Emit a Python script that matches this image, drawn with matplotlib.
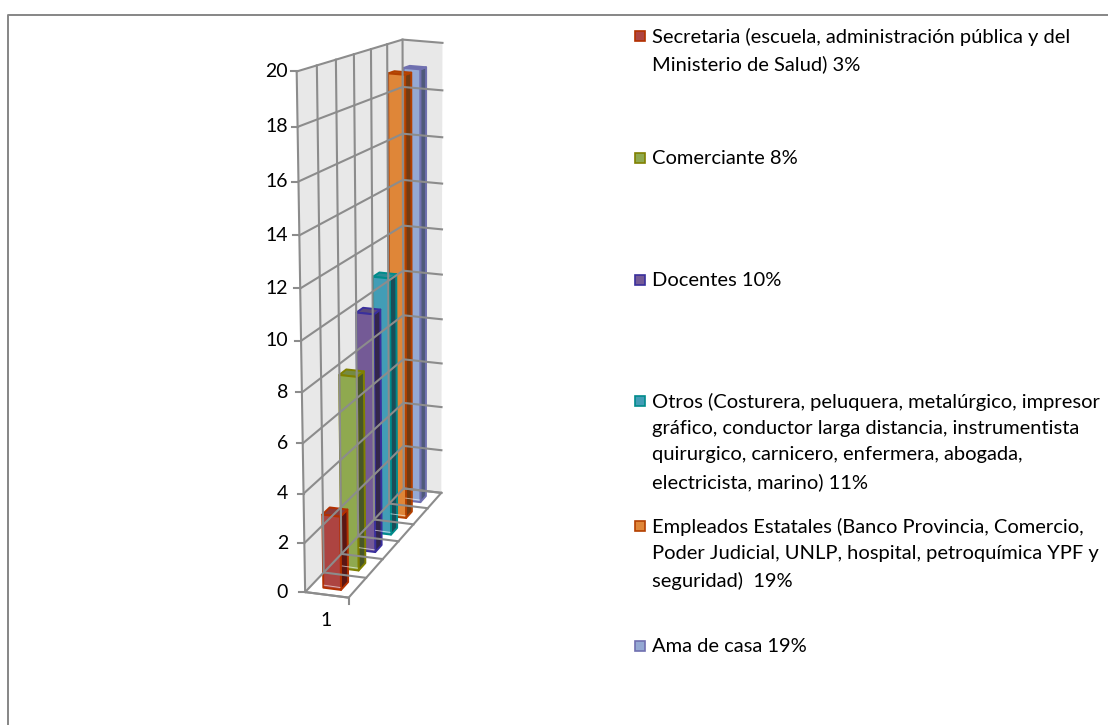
import numpy as np
import matplotlib
matplotlib.use('Agg')
import matplotlib.pyplot as plt
from matplotlib.patches import Polygon, Rectangle

plt.rcParams['font.family'] = ['Lato', 'DejaVu Sans']

# datos
valores = [3, 8, 10, 11, 19, 19]
ticks_y = [0, 2, 4, 6, 8, 10, 12, 14, 16, 18, 20]
categoria = '1'
leyenda = [
    'Secretaria (escuela, administración pública y del\nMinisterio de Salud) 3%',
    'Comerciante 8%',
    'Docentes 10%',
    'Otros (Costurera, peluquera, metalúrgico, impresor\ngráfico, conductor larga distancia, instrumentista\nquirurgico, carnicero, enfermera, abogada,\nelectricista, marino) 11%',
    'Empleados Estatales (Banco Provincia, Comercio,\nPoder Judicial, UNLP, hospital, petroquímica YPF y\nseguridad)  19%',
    'Ama de casa 19%',
]
leyenda_y = [36, 158, 280, 401, 526, 646]

# colores: frente, lado, arriba, borde
colores_frente = ['#AD4441', '#8FA94F', '#745A96', '#429DB6', '#DF8638', '#95A9D3']
colores_lado = ['#5B1613', '#475626', '#33264B', '#1B4C58', '#733B11', '#4F5A7A']
colores_arriba = ['#8B3A38', '#758A44', '#5A4A7A', '#2A8C96', '#B5500A', '#6B73AE']
colores_borde = ['#B33000', '#808000', '#3A2F9C', '#008B8B', '#B34000', '#7070B0']

# camara: esquinas de la caja 3D (x, prof, valor) -> pixel
esquinas_3d = [(0, 0, 0), (1, 0, 0), (1, 1, 0), (0, 1, 0), (0, 0, 20), (0, 1, 20), (1, 1, 20),
               (0, 0, 10), (0, 1, 10), (1, 1, 10)]
esquinas_px = [(304, 591), (350, 598), (440, 493), (405, 489), (297, 71), (402, 40), (443, 43),
               (300.5, 342), (403.5, 270), (441.5, 274)]

A = []
b = []
for (X, Z, V), (u, w) in zip(esquinas_3d, esquinas_px):
    A.append([X, Z, V, 1, 0, 0, 0, 0, -u * X, -u * Z, -u * V])
    b.append(u)
    A.append([0, 0, 0, 0, X, Z, V, 1, -w * X, -w * Z, -w * V])
    b.append(w)
P = np.linalg.lstsq(np.array(A, float), np.array(b, float), rcond=None)[0]
P = np.append(P, 1).reshape(3, 4)


def proy(x, z, v):
    p = P @ np.array([x, z, v, 1.0])
    return p[0] / p[2], p[1] / p[2]


fig = plt.figure(figsize=(11.08, 7.25), dpi=100)
ax = fig.add_axes([0, 0, 1, 1])
ax.set_xlim(0, 1108)
ax.set_ylim(725, 0)
ax.axis('off')

# marco del grafico
ax.plot([8, 8, 1108], [725, 15, 15], color='#868686', lw=1.4)

gris = '#8C8C8C'
pared = '#E8E8E8'

# paredes
ax.add_patch(Polygon([proy(0, 0, 0), proy(0, 1, 0), proy(0, 1, 20), proy(0, 0, 20)], fc=pared, ec='none'))
ax.add_patch(Polygon([proy(0, 1, 0), proy(1, 1, 0), proy(1, 1, 20), proy(0, 1, 20)], fc=pared, ec='none'))

n = len(valores)

# grilla
for v in ticks_y:
    pts = [proy(0, 0, v), proy(0, 1, v), proy(1, 1, v)]
    ax.plot([p[0] for p in pts], [p[1] for p in pts], color=gris, lw=1.5)
    t = proy(0, 0, v)
    ax.plot([t[0] - 6, t[0]], [t[1], t[1]], color=gris, lw=1.5)
    ax.text(288, t[1], str(v), ha='right', va='center', fontsize=14, color='black')

for i in range(n + 1):
    z = i / n
    pts = [proy(1, z, 0), proy(0, z, 0), proy(0, z, 20)]
    ax.plot([p[0] for p in pts], [p[1] for p in pts], color=gris, lw=1.5)

# piso, bordes
pts = [proy(0, 0, 0), proy(1, 0, 0), proy(1, 1, 0)]
ax.plot([p[0] for p in pts], [p[1] for p in pts], color=gris, lw=1.5)
t = proy(1, 0, 0)
ax.plot([t[0], t[0]], [t[1], t[1] + 6], color=gris, lw=1.5)
ax.text(326, 621, categoria, ha='center', va='center', fontsize=14, color='black')

# barras, de atras hacia adelante
x0, x1 = 0.29, 0.7
for i in range(n - 1, -1, -1):
    v = valores[i]
    z0 = (i + 0.3) / n
    z1 = (i + 0.7) / n
    lado = [proy(x1, z0, 0), proy(x1, z1, 0), proy(x1, z1, v), proy(x1, z0, v)]
    arriba = [proy(x0, z0, v), proy(x1, z0, v), proy(x1, z1, v), proy(x0, z1, v)]
    frente = [proy(x0, z0, 0), proy(x1, z0, 0), proy(x1, z0, v), proy(x0, z0, v)]
    ax.add_patch(Polygon(lado, fc=colores_lado[i], ec=colores_borde[i], lw=1.4, joinstyle='round'))
    ax.add_patch(Polygon(arriba, fc=colores_arriba[i], ec=colores_borde[i], lw=1.4, joinstyle='round'))
    ax.add_patch(Polygon(frente, fc=colores_frente[i], ec=colores_borde[i], lw=1.4, joinstyle='round'))
    # brillo abajo
    a = proy(x0, z0, 0.1)
    c = proy(x1, z0, 0.1)
    ax.plot([a[0] + 1, c[0] - 1], [a[1], c[1]], color='white', lw=0.7, alpha=0.6)

# leyenda
for i, txt in enumerate(leyenda):
    y = leyenda_y[i]
    ax.add_patch(Rectangle((635, y - 5), 10, 10, fc=colores_frente[i], ec=colores_borde[i], lw=1.2))
    ax.text(652, y - 8.5, txt, ha='left', va='top', fontsize=14.5, color='black', linespacing=1.675)

fig.savefig('out.png', dpi=100)
